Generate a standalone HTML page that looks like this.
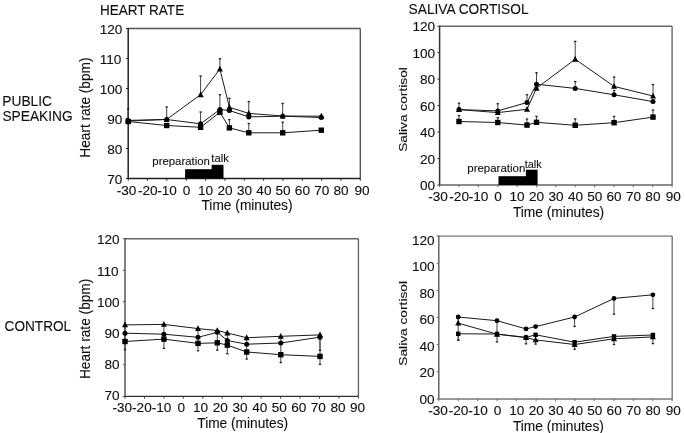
<!DOCTYPE html><html><head><meta charset="utf-8"><style>html,body{margin:0;padding:0;background:#fff;width:685px;height:433px;overflow:hidden}svg{display:block;will-change:transform}text{font-family:"Liberation Sans",sans-serif;fill:#111;stroke:#111;stroke-width:0.12px}</style></head><body>
<svg width="685" height="433" viewBox="0 0 685 433">
<rect width="685" height="433" fill="#fff"/>
<text x="99.91" y="14.95" font-size="14.00" textLength="84.26" lengthAdjust="spacingAndGlyphs">HEART RATE</text>
<text x="408.59" y="14.45" font-size="14.00" textLength="119.96" lengthAdjust="spacingAndGlyphs">SALIVA CORTISOL</text>
<text x="2.27" y="105.70" font-size="14.00" textLength="49.75" lengthAdjust="spacingAndGlyphs">PUBLIC</text>
<text x="2.43" y="121.00" font-size="14.00" textLength="70.30" lengthAdjust="spacingAndGlyphs">SPEAKING</text>
<text x="4.61" y="330.80" font-size="14.00" textLength="66.54" lengthAdjust="spacingAndGlyphs">CONTROL</text>
<line x1="128.20" y1="28.50" x2="360.30" y2="28.50" stroke="#555" stroke-width="1.4"/>
<line x1="360.30" y1="28.50" x2="360.30" y2="178.50" stroke="#555" stroke-width="1.4"/>
<line x1="128.20" y1="27.90" x2="128.20" y2="179.10" stroke="#222" stroke-width="1.5"/>
<line x1="128.20" y1="178.50" x2="360.30" y2="178.50" stroke="#222" stroke-width="1.4"/>
<line x1="126.00" y1="178.50" x2="128.20" y2="178.50" stroke="#222" stroke-width="1"/>
<text x="107.30" y="183.80" font-size="13.6">70</text>
<line x1="126.00" y1="148.50" x2="128.20" y2="148.50" stroke="#222" stroke-width="1"/>
<text x="107.30" y="153.80" font-size="13.6">80</text>
<line x1="126.00" y1="118.50" x2="128.20" y2="118.50" stroke="#222" stroke-width="1"/>
<text x="107.30" y="123.80" font-size="13.6">90</text>
<line x1="126.00" y1="88.50" x2="128.20" y2="88.50" stroke="#222" stroke-width="1"/>
<text x="99.74" y="93.80" font-size="13.6">100</text>
<line x1="126.00" y1="58.50" x2="128.20" y2="58.50" stroke="#222" stroke-width="1"/>
<text x="99.74" y="63.80" font-size="13.6">110</text>
<line x1="126.00" y1="28.50" x2="128.20" y2="28.50" stroke="#222" stroke-width="1"/>
<text x="99.74" y="33.80" font-size="13.6">120</text>
<line x1="128.20" y1="178.50" x2="128.20" y2="180.70" stroke="#222" stroke-width="1"/>
<text x="116.64" y="194.70" font-size="13.6">-30</text>
<line x1="147.54" y1="178.50" x2="147.54" y2="180.70" stroke="#222" stroke-width="1"/>
<text x="137.88" y="194.70" font-size="13.6">-20</text>
<line x1="166.88" y1="178.50" x2="166.88" y2="180.70" stroke="#222" stroke-width="1"/>
<text x="157.22" y="194.70" font-size="13.6">-10</text>
<line x1="186.22" y1="178.50" x2="186.22" y2="180.70" stroke="#222" stroke-width="1"/>
<text x="182.64" y="194.70" font-size="13.6">0</text>
<line x1="205.57" y1="178.50" x2="205.57" y2="180.70" stroke="#222" stroke-width="1"/>
<text x="197.95" y="194.70" font-size="13.6">10</text>
<line x1="224.91" y1="178.50" x2="224.91" y2="180.70" stroke="#222" stroke-width="1"/>
<text x="217.47" y="194.70" font-size="13.6">20</text>
<line x1="244.25" y1="178.50" x2="244.25" y2="180.70" stroke="#222" stroke-width="1"/>
<text x="236.89" y="194.70" font-size="13.6">30</text>
<line x1="263.59" y1="178.50" x2="263.59" y2="180.70" stroke="#222" stroke-width="1"/>
<text x="256.34" y="194.70" font-size="13.6">40</text>
<line x1="282.93" y1="178.50" x2="282.93" y2="180.70" stroke="#222" stroke-width="1"/>
<text x="275.56" y="194.70" font-size="13.6">50</text>
<line x1="302.27" y1="178.50" x2="302.27" y2="180.70" stroke="#222" stroke-width="1"/>
<text x="294.83" y="194.70" font-size="13.6">60</text>
<line x1="321.62" y1="178.50" x2="321.62" y2="180.70" stroke="#222" stroke-width="1"/>
<text x="314.17" y="194.70" font-size="13.6">70</text>
<line x1="340.96" y1="178.50" x2="340.96" y2="180.70" stroke="#222" stroke-width="1"/>
<text x="333.56" y="194.70" font-size="13.6">80</text>
<line x1="360.30" y1="178.50" x2="360.30" y2="180.70" stroke="#222" stroke-width="1"/>
<text x="354.48" y="194.70" font-size="13.6">90</text>
<text transform="translate(89.90,157.72) rotate(-90)" font-size="14.00" textLength="100.17" lengthAdjust="spacingAndGlyphs">Heart rate (bpm)</text>
<text x="201.49" y="209.80" font-size="14.00" textLength="91.05" lengthAdjust="spacingAndGlyphs">Time (minutes)</text>
<rect x="185.1" y="169.2" width="27.4" height="9.30" fill="#000"/>
<rect x="211.6" y="164.8" width="11.9" height="13.70" fill="#000"/>
<text x="152.37" y="164.70" font-size="11.40" textLength="57.47" lengthAdjust="spacingAndGlyphs">preparation</text>
<text x="211.33" y="161.80" font-size="11.40" textLength="17.45" lengthAdjust="spacingAndGlyphs">talk</text>
<line x1="128.20" y1="119.00" x2="128.20" y2="109.00" stroke="#444" stroke-width="1"/>
<line x1="127.00" y1="109.00" x2="129.40" y2="109.00" stroke="#222" stroke-width="1.3"/>
<line x1="166.70" y1="119.00" x2="166.70" y2="107.00" stroke="#444" stroke-width="1"/>
<line x1="165.50" y1="107.00" x2="167.90" y2="107.00" stroke="#222" stroke-width="1.3"/>
<line x1="200.60" y1="94.00" x2="200.60" y2="76.00" stroke="#444" stroke-width="1"/>
<line x1="199.40" y1="76.00" x2="201.80" y2="76.00" stroke="#222" stroke-width="1.3"/>
<line x1="219.90" y1="68.00" x2="219.90" y2="58.70" stroke="#444" stroke-width="1"/>
<line x1="218.70" y1="58.70" x2="221.10" y2="58.70" stroke="#222" stroke-width="1.3"/>
<line x1="200.60" y1="123.00" x2="200.60" y2="112.00" stroke="#444" stroke-width="1"/>
<line x1="199.40" y1="112.00" x2="201.80" y2="112.00" stroke="#222" stroke-width="1.3"/>
<line x1="219.90" y1="109.00" x2="219.90" y2="94.70" stroke="#444" stroke-width="1"/>
<line x1="218.70" y1="94.70" x2="221.10" y2="94.70" stroke="#222" stroke-width="1.3"/>
<line x1="229.40" y1="108.00" x2="229.40" y2="98.30" stroke="#444" stroke-width="1"/>
<line x1="228.20" y1="98.30" x2="230.60" y2="98.30" stroke="#222" stroke-width="1.3"/>
<line x1="229.40" y1="127.00" x2="229.40" y2="119.60" stroke="#444" stroke-width="1"/>
<line x1="228.20" y1="119.60" x2="230.60" y2="119.60" stroke="#222" stroke-width="1.3"/>
<line x1="248.80" y1="113.00" x2="248.80" y2="101.60" stroke="#444" stroke-width="1"/>
<line x1="247.60" y1="101.60" x2="250.00" y2="101.60" stroke="#222" stroke-width="1.3"/>
<line x1="248.80" y1="132.00" x2="248.80" y2="123.50" stroke="#444" stroke-width="1"/>
<line x1="247.60" y1="123.50" x2="250.00" y2="123.50" stroke="#222" stroke-width="1.3"/>
<line x1="282.70" y1="116.00" x2="282.70" y2="103.50" stroke="#444" stroke-width="1"/>
<line x1="281.50" y1="103.50" x2="283.90" y2="103.50" stroke="#222" stroke-width="1.3"/>
<line x1="282.70" y1="132.00" x2="282.70" y2="122.20" stroke="#444" stroke-width="1"/>
<line x1="281.50" y1="122.20" x2="283.90" y2="122.20" stroke="#222" stroke-width="1.3"/>
<polyline points="128.20,120.40 166.70,119.40 200.60,94.70 219.90,69.00 229.40,107.30 248.80,113.40 282.70,116.00 321.30,116.20" fill="none" stroke="#1a1a1a" stroke-width="1.0" stroke-linejoin="round"/>
<polyline points="128.20,121.00 166.70,119.50 200.60,123.80 219.90,109.50 229.40,110.50 248.80,116.90 282.70,116.20 321.30,117.50" fill="none" stroke="#1a1a1a" stroke-width="1.0" stroke-linejoin="round"/>
<polyline points="128.20,121.50 166.70,125.50 200.60,127.30 219.90,112.30 229.40,127.90 248.80,132.80 282.70,132.80 321.30,130.20" fill="none" stroke="#1a1a1a" stroke-width="1.0" stroke-linejoin="round"/>
<rect x="125.50" y="118.80" width="5.4" height="5.4" fill="#000"/>
<rect x="164.00" y="122.80" width="5.4" height="5.4" fill="#000"/>
<rect x="197.90" y="124.60" width="5.4" height="5.4" fill="#000"/>
<rect x="217.20" y="109.60" width="5.4" height="5.4" fill="#000"/>
<rect x="226.70" y="125.20" width="5.4" height="5.4" fill="#000"/>
<rect x="246.10" y="130.10" width="5.4" height="5.4" fill="#000"/>
<rect x="280.00" y="130.10" width="5.4" height="5.4" fill="#000"/>
<rect x="318.60" y="127.50" width="5.4" height="5.4" fill="#000"/>
<circle cx="128.20" cy="121.00" r="2.5" fill="#000"/>
<circle cx="166.70" cy="119.50" r="2.5" fill="#000"/>
<circle cx="200.60" cy="123.80" r="2.5" fill="#000"/>
<circle cx="219.90" cy="109.50" r="2.5" fill="#000"/>
<circle cx="229.40" cy="110.50" r="2.5" fill="#000"/>
<circle cx="248.80" cy="116.90" r="2.5" fill="#000"/>
<circle cx="282.70" cy="116.20" r="2.5" fill="#000"/>
<circle cx="321.30" cy="117.50" r="2.5" fill="#000"/>
<polygon points="128.20,117.04 131.20,122.84 125.20,122.84" fill="#000"/>
<polygon points="166.70,116.04 169.70,121.84 163.70,121.84" fill="#000"/>
<polygon points="200.60,91.34 203.60,97.14 197.60,97.14" fill="#000"/>
<polygon points="219.90,65.64 222.90,71.44 216.90,71.44" fill="#000"/>
<polygon points="229.40,103.94 232.40,109.74 226.40,109.74" fill="#000"/>
<polygon points="248.80,110.04 251.80,115.84 245.80,115.84" fill="#000"/>
<polygon points="282.70,112.64 285.70,118.44 279.70,118.44" fill="#000"/>
<polygon points="321.30,112.84 324.30,118.64 318.30,118.64" fill="#000"/>
<line x1="439.60" y1="26.20" x2="672.10" y2="26.20" stroke="#666" stroke-width="1.4"/>
<line x1="672.10" y1="26.20" x2="672.10" y2="185.00" stroke="#666" stroke-width="1.4"/>
<line x1="439.60" y1="25.60" x2="439.60" y2="185.60" stroke="#333" stroke-width="1.5"/>
<line x1="439.60" y1="185.00" x2="672.10" y2="185.00" stroke="#666" stroke-width="1.4"/>
<line x1="437.40" y1="185.00" x2="439.60" y2="185.00" stroke="#333" stroke-width="1"/>
<text x="420.00" y="190.00" font-size="13.6">00</text>
<line x1="437.40" y1="158.53" x2="439.60" y2="158.53" stroke="#333" stroke-width="1"/>
<text x="420.00" y="163.58" font-size="13.6">20</text>
<line x1="437.40" y1="132.07" x2="439.60" y2="132.07" stroke="#333" stroke-width="1"/>
<text x="420.00" y="137.16" font-size="13.6">40</text>
<line x1="437.40" y1="105.60" x2="439.60" y2="105.60" stroke="#333" stroke-width="1"/>
<text x="420.00" y="110.74" font-size="13.6">60</text>
<line x1="437.40" y1="79.13" x2="439.60" y2="79.13" stroke="#333" stroke-width="1"/>
<text x="420.00" y="84.32" font-size="13.6">80</text>
<line x1="437.40" y1="52.67" x2="439.60" y2="52.67" stroke="#333" stroke-width="1"/>
<text x="412.44" y="57.90" font-size="13.6">100</text>
<line x1="437.40" y1="26.20" x2="439.60" y2="26.20" stroke="#333" stroke-width="1"/>
<text x="412.44" y="31.48" font-size="13.6">120</text>
<line x1="439.60" y1="185.00" x2="439.60" y2="187.20" stroke="#666" stroke-width="1"/>
<text x="428.29" y="200.60" font-size="13.6">-30</text>
<line x1="458.98" y1="185.00" x2="458.98" y2="187.20" stroke="#666" stroke-width="1"/>
<text x="449.31" y="200.60" font-size="13.6">-20</text>
<line x1="478.35" y1="185.00" x2="478.35" y2="187.20" stroke="#666" stroke-width="1"/>
<text x="468.69" y="200.60" font-size="13.6">-10</text>
<line x1="497.73" y1="185.00" x2="497.73" y2="187.20" stroke="#666" stroke-width="1"/>
<text x="494.14" y="200.60" font-size="13.6">0</text>
<line x1="517.10" y1="185.00" x2="517.10" y2="187.20" stroke="#666" stroke-width="1"/>
<text x="509.48" y="200.60" font-size="13.6">10</text>
<line x1="536.48" y1="185.00" x2="536.48" y2="187.20" stroke="#666" stroke-width="1"/>
<text x="529.03" y="200.60" font-size="13.6">20</text>
<line x1="555.85" y1="185.00" x2="555.85" y2="187.20" stroke="#666" stroke-width="1"/>
<text x="548.49" y="200.60" font-size="13.6">30</text>
<line x1="575.23" y1="185.00" x2="575.23" y2="187.20" stroke="#666" stroke-width="1"/>
<text x="567.97" y="200.60" font-size="13.6">40</text>
<line x1="594.60" y1="185.00" x2="594.60" y2="187.20" stroke="#666" stroke-width="1"/>
<text x="587.23" y="200.60" font-size="13.6">50</text>
<line x1="613.98" y1="185.00" x2="613.98" y2="187.20" stroke="#666" stroke-width="1"/>
<text x="606.53" y="200.60" font-size="13.6">60</text>
<line x1="633.35" y1="185.00" x2="633.35" y2="187.20" stroke="#666" stroke-width="1"/>
<text x="625.90" y="200.60" font-size="13.6">70</text>
<line x1="652.73" y1="185.00" x2="652.73" y2="187.20" stroke="#666" stroke-width="1"/>
<text x="645.33" y="200.60" font-size="13.6">80</text>
<line x1="672.10" y1="185.00" x2="672.10" y2="187.20" stroke="#666" stroke-width="1"/>
<text x="665.78" y="200.60" font-size="13.6">90</text>
<text transform="translate(406.90,151.82) rotate(-90)" font-size="11.40" textLength="84.64" lengthAdjust="spacingAndGlyphs">Saliva cortisol</text>
<text x="512.89" y="216.60" font-size="14.00" textLength="91.26" lengthAdjust="spacingAndGlyphs">Time (minutes)</text>
<rect x="498.5" y="176.2" width="28.2" height="8.80" fill="#000"/>
<rect x="525.9" y="169.7" width="11.7" height="15.30" fill="#000"/>
<text x="467.26" y="171.50" font-size="11.40" textLength="58.09" lengthAdjust="spacingAndGlyphs">preparation</text>
<text x="524.74" y="168.20" font-size="11.40" textLength="16.95" lengthAdjust="spacingAndGlyphs">talk</text>
<line x1="459.00" y1="108.00" x2="459.00" y2="103.20" stroke="#444" stroke-width="1"/>
<line x1="457.80" y1="103.20" x2="460.20" y2="103.20" stroke="#222" stroke-width="1.3"/>
<line x1="497.80" y1="109.00" x2="497.80" y2="103.70" stroke="#444" stroke-width="1"/>
<line x1="496.60" y1="103.70" x2="499.00" y2="103.70" stroke="#222" stroke-width="1.3"/>
<line x1="527.00" y1="101.00" x2="527.00" y2="94.80" stroke="#444" stroke-width="1"/>
<line x1="525.80" y1="94.80" x2="528.20" y2="94.80" stroke="#222" stroke-width="1.3"/>
<line x1="536.50" y1="83.00" x2="536.50" y2="72.70" stroke="#444" stroke-width="1"/>
<line x1="535.30" y1="72.70" x2="537.70" y2="72.70" stroke="#222" stroke-width="1.3"/>
<line x1="575.20" y1="58.00" x2="575.20" y2="41.40" stroke="#444" stroke-width="1"/>
<line x1="574.00" y1="41.40" x2="576.40" y2="41.40" stroke="#222" stroke-width="1.3"/>
<line x1="575.20" y1="87.00" x2="575.20" y2="81.60" stroke="#444" stroke-width="1"/>
<line x1="574.00" y1="81.60" x2="576.40" y2="81.60" stroke="#222" stroke-width="1.3"/>
<line x1="614.10" y1="85.00" x2="614.10" y2="77.00" stroke="#444" stroke-width="1"/>
<line x1="612.90" y1="77.00" x2="615.30" y2="77.00" stroke="#222" stroke-width="1.3"/>
<line x1="614.10" y1="94.00" x2="614.10" y2="90.50" stroke="#444" stroke-width="1"/>
<line x1="612.90" y1="90.50" x2="615.30" y2="90.50" stroke="#222" stroke-width="1.3"/>
<line x1="653.00" y1="95.00" x2="653.00" y2="84.60" stroke="#444" stroke-width="1"/>
<line x1="651.80" y1="84.60" x2="654.20" y2="84.60" stroke="#222" stroke-width="1.3"/>
<line x1="459.00" y1="120.00" x2="459.00" y2="115.60" stroke="#444" stroke-width="1"/>
<line x1="457.80" y1="115.60" x2="460.20" y2="115.60" stroke="#222" stroke-width="1.3"/>
<line x1="497.80" y1="121.00" x2="497.80" y2="117.70" stroke="#444" stroke-width="1"/>
<line x1="496.60" y1="117.70" x2="499.00" y2="117.70" stroke="#222" stroke-width="1.3"/>
<line x1="527.00" y1="124.00" x2="527.00" y2="119.00" stroke="#444" stroke-width="1"/>
<line x1="525.80" y1="119.00" x2="528.20" y2="119.00" stroke="#222" stroke-width="1.3"/>
<line x1="536.50" y1="121.00" x2="536.50" y2="116.40" stroke="#444" stroke-width="1"/>
<line x1="535.30" y1="116.40" x2="537.70" y2="116.40" stroke="#222" stroke-width="1.3"/>
<line x1="575.20" y1="124.00" x2="575.20" y2="118.90" stroke="#444" stroke-width="1"/>
<line x1="574.00" y1="118.90" x2="576.40" y2="118.90" stroke="#222" stroke-width="1.3"/>
<line x1="614.10" y1="121.00" x2="614.10" y2="116.40" stroke="#444" stroke-width="1"/>
<line x1="612.90" y1="116.40" x2="615.30" y2="116.40" stroke="#222" stroke-width="1.3"/>
<line x1="653.00" y1="116.00" x2="653.00" y2="110.00" stroke="#444" stroke-width="1"/>
<line x1="651.80" y1="110.00" x2="654.20" y2="110.00" stroke="#222" stroke-width="1.3"/>
<polyline points="459.00,109.60 497.80,112.60 527.00,109.30 536.50,88.20 575.20,59.20 614.10,86.40 653.00,96.00" fill="none" stroke="#1a1a1a" stroke-width="1.0" stroke-linejoin="round"/>
<polyline points="459.00,109.60 497.80,110.90 527.00,102.50 536.50,84.20 575.20,88.40 614.10,94.80 653.00,101.60" fill="none" stroke="#1a1a1a" stroke-width="1.0" stroke-linejoin="round"/>
<polyline points="459.00,121.50 497.80,122.50 527.00,125.10 536.50,122.30 575.20,125.30 614.10,122.70 653.00,117.10" fill="none" stroke="#1a1a1a" stroke-width="1.0" stroke-linejoin="round"/>
<rect x="456.30" y="118.80" width="5.4" height="5.4" fill="#000"/>
<rect x="495.10" y="119.80" width="5.4" height="5.4" fill="#000"/>
<rect x="524.30" y="122.40" width="5.4" height="5.4" fill="#000"/>
<rect x="533.80" y="119.60" width="5.4" height="5.4" fill="#000"/>
<rect x="572.50" y="122.60" width="5.4" height="5.4" fill="#000"/>
<rect x="611.40" y="120.00" width="5.4" height="5.4" fill="#000"/>
<rect x="650.30" y="114.40" width="5.4" height="5.4" fill="#000"/>
<circle cx="459.00" cy="109.60" r="2.5" fill="#000"/>
<circle cx="497.80" cy="110.90" r="2.5" fill="#000"/>
<circle cx="527.00" cy="102.50" r="2.5" fill="#000"/>
<circle cx="536.50" cy="84.20" r="2.5" fill="#000"/>
<circle cx="575.20" cy="88.40" r="2.5" fill="#000"/>
<circle cx="614.10" cy="94.80" r="2.5" fill="#000"/>
<circle cx="653.00" cy="101.60" r="2.5" fill="#000"/>
<polygon points="459.00,106.24 462.00,112.04 456.00,112.04" fill="#000"/>
<polygon points="497.80,109.24 500.80,115.04 494.80,115.04" fill="#000"/>
<polygon points="527.00,105.94 530.00,111.74 524.00,111.74" fill="#000"/>
<polygon points="536.50,84.84 539.50,90.64 533.50,90.64" fill="#000"/>
<polygon points="575.20,55.84 578.20,61.64 572.20,61.64" fill="#000"/>
<polygon points="614.10,83.04 617.10,88.84 611.10,88.84" fill="#000"/>
<polygon points="653.00,92.64 656.00,98.44 650.00,98.44" fill="#000"/>
<line x1="125.00" y1="238.70" x2="358.40" y2="238.70" stroke="#666" stroke-width="1.4"/>
<line x1="358.40" y1="238.70" x2="358.40" y2="396.40" stroke="#666" stroke-width="1.4"/>
<line x1="125.00" y1="238.10" x2="125.00" y2="397.00" stroke="#555" stroke-width="1.5"/>
<line x1="125.00" y1="396.40" x2="358.40" y2="396.40" stroke="#333" stroke-width="1.4"/>
<line x1="122.80" y1="396.40" x2="125.00" y2="396.40" stroke="#555" stroke-width="1"/>
<text x="104.50" y="400.40" font-size="13.6">70</text>
<line x1="122.80" y1="364.86" x2="125.00" y2="364.86" stroke="#555" stroke-width="1"/>
<text x="104.50" y="369.20" font-size="13.6">80</text>
<line x1="122.80" y1="333.32" x2="125.00" y2="333.32" stroke="#555" stroke-width="1"/>
<text x="104.50" y="338.00" font-size="13.6">90</text>
<line x1="122.80" y1="301.78" x2="125.00" y2="301.78" stroke="#555" stroke-width="1"/>
<text x="96.94" y="306.80" font-size="13.6">100</text>
<line x1="122.80" y1="270.24" x2="125.00" y2="270.24" stroke="#555" stroke-width="1"/>
<text x="96.94" y="275.60" font-size="13.6">110</text>
<line x1="122.80" y1="238.70" x2="125.00" y2="238.70" stroke="#555" stroke-width="1"/>
<text x="96.94" y="244.40" font-size="13.6">120</text>
<line x1="125.00" y1="396.40" x2="125.00" y2="398.60" stroke="#333" stroke-width="1"/>
<text x="112.49" y="412.30" font-size="13.6">-30</text>
<line x1="144.45" y1="396.40" x2="144.45" y2="398.60" stroke="#333" stroke-width="1"/>
<text x="132.10" y="412.30" font-size="13.6">-20</text>
<line x1="163.90" y1="396.40" x2="163.90" y2="398.60" stroke="#333" stroke-width="1"/>
<text x="151.71" y="412.30" font-size="13.6">-10</text>
<line x1="183.35" y1="396.40" x2="183.35" y2="398.60" stroke="#333" stroke-width="1"/>
<text x="177.40" y="412.30" font-size="13.6">0</text>
<line x1="202.80" y1="396.40" x2="202.80" y2="398.60" stroke="#333" stroke-width="1"/>
<text x="192.97" y="412.30" font-size="13.6">10</text>
<line x1="222.25" y1="396.40" x2="222.25" y2="398.60" stroke="#333" stroke-width="1"/>
<text x="212.76" y="412.30" font-size="13.6">20</text>
<line x1="241.70" y1="396.40" x2="241.70" y2="398.60" stroke="#333" stroke-width="1"/>
<text x="232.45" y="412.30" font-size="13.6">30</text>
<line x1="261.15" y1="396.40" x2="261.15" y2="398.60" stroke="#333" stroke-width="1"/>
<text x="252.17" y="412.30" font-size="13.6">40</text>
<line x1="280.60" y1="396.40" x2="280.60" y2="398.60" stroke="#333" stroke-width="1"/>
<text x="271.66" y="412.30" font-size="13.6">50</text>
<line x1="300.05" y1="396.40" x2="300.05" y2="398.60" stroke="#333" stroke-width="1"/>
<text x="291.20" y="412.30" font-size="13.6">60</text>
<line x1="319.50" y1="396.40" x2="319.50" y2="398.60" stroke="#333" stroke-width="1"/>
<text x="310.80" y="412.30" font-size="13.6">70</text>
<line x1="338.95" y1="396.40" x2="338.95" y2="398.60" stroke="#333" stroke-width="1"/>
<text x="330.47" y="412.30" font-size="13.6">80</text>
<line x1="358.40" y1="396.40" x2="358.40" y2="398.60" stroke="#333" stroke-width="1"/>
<text x="350.05" y="412.30" font-size="13.6">90</text>
<text transform="translate(89.90,379.12) rotate(-90)" font-size="14.00" textLength="100.47" lengthAdjust="spacingAndGlyphs">Heart rate (bpm)</text>
<text x="197.29" y="427.70" font-size="14.00" textLength="90.85" lengthAdjust="spacingAndGlyphs">Time (minutes)</text>
<line x1="125.00" y1="324.90" x2="125.00" y2="349.80" stroke="#444" stroke-width="1"/>
<line x1="123.80" y1="349.80" x2="126.20" y2="349.80" stroke="#222" stroke-width="1.3"/>
<line x1="163.90" y1="324.40" x2="163.90" y2="348.40" stroke="#444" stroke-width="1"/>
<line x1="162.70" y1="348.40" x2="165.10" y2="348.40" stroke="#222" stroke-width="1.3"/>
<line x1="198.00" y1="328.60" x2="198.00" y2="350.80" stroke="#444" stroke-width="1"/>
<line x1="196.80" y1="350.80" x2="199.20" y2="350.80" stroke="#222" stroke-width="1.3"/>
<line x1="217.30" y1="330.50" x2="217.30" y2="350.20" stroke="#444" stroke-width="1"/>
<line x1="216.10" y1="350.20" x2="218.50" y2="350.20" stroke="#222" stroke-width="1.3"/>
<line x1="227.30" y1="333.00" x2="227.30" y2="353.70" stroke="#444" stroke-width="1"/>
<line x1="226.10" y1="353.70" x2="228.50" y2="353.70" stroke="#222" stroke-width="1.3"/>
<line x1="246.70" y1="337.70" x2="246.70" y2="359.00" stroke="#444" stroke-width="1"/>
<line x1="245.50" y1="359.00" x2="247.90" y2="359.00" stroke="#222" stroke-width="1.3"/>
<line x1="280.80" y1="336.30" x2="280.80" y2="362.60" stroke="#444" stroke-width="1"/>
<line x1="279.60" y1="362.60" x2="282.00" y2="362.60" stroke="#222" stroke-width="1.3"/>
<line x1="320.00" y1="334.90" x2="320.00" y2="364.30" stroke="#444" stroke-width="1"/>
<line x1="318.80" y1="364.30" x2="321.20" y2="364.30" stroke="#222" stroke-width="1.3"/>
<line x1="320.00" y1="335.00" x2="320.00" y2="350.30" stroke="#444" stroke-width="1"/>
<line x1="318.80" y1="350.30" x2="321.20" y2="350.30" stroke="#222" stroke-width="1.3"/>
<polyline points="125.00,324.90 163.90,324.40 198.00,328.60 217.30,330.50 227.30,333.00 246.70,337.70 280.80,336.30 320.00,334.90" fill="none" stroke="#1a1a1a" stroke-width="1.0" stroke-linejoin="round"/>
<polyline points="125.00,333.20 163.90,334.20 198.00,337.30 217.30,332.30 227.30,340.50 246.70,344.20 280.80,343.00 320.00,337.20" fill="none" stroke="#1a1a1a" stroke-width="1.0" stroke-linejoin="round"/>
<polyline points="125.00,341.50 163.90,339.10 198.00,343.40 217.30,342.80 227.30,345.10 246.70,352.00 280.80,354.70 320.00,356.40" fill="none" stroke="#1a1a1a" stroke-width="1.0" stroke-linejoin="round"/>
<rect x="122.30" y="338.80" width="5.4" height="5.4" fill="#000"/>
<rect x="161.20" y="336.40" width="5.4" height="5.4" fill="#000"/>
<rect x="195.30" y="340.70" width="5.4" height="5.4" fill="#000"/>
<rect x="214.60" y="340.10" width="5.4" height="5.4" fill="#000"/>
<rect x="224.60" y="342.40" width="5.4" height="5.4" fill="#000"/>
<rect x="244.00" y="349.30" width="5.4" height="5.4" fill="#000"/>
<rect x="278.10" y="352.00" width="5.4" height="5.4" fill="#000"/>
<rect x="317.30" y="353.70" width="5.4" height="5.4" fill="#000"/>
<circle cx="125.00" cy="333.20" r="2.5" fill="#000"/>
<circle cx="163.90" cy="334.20" r="2.5" fill="#000"/>
<circle cx="198.00" cy="337.30" r="2.5" fill="#000"/>
<circle cx="217.30" cy="332.30" r="2.5" fill="#000"/>
<circle cx="227.30" cy="340.50" r="2.5" fill="#000"/>
<circle cx="246.70" cy="344.20" r="2.5" fill="#000"/>
<circle cx="280.80" cy="343.00" r="2.5" fill="#000"/>
<circle cx="320.00" cy="337.20" r="2.5" fill="#000"/>
<polygon points="125.00,321.54 128.00,327.34 122.00,327.34" fill="#000"/>
<polygon points="163.90,321.04 166.90,326.84 160.90,326.84" fill="#000"/>
<polygon points="198.00,325.24 201.00,331.04 195.00,331.04" fill="#000"/>
<polygon points="217.30,327.14 220.30,332.94 214.30,332.94" fill="#000"/>
<polygon points="227.30,329.64 230.30,335.44 224.30,335.44" fill="#000"/>
<polygon points="246.70,334.34 249.70,340.14 243.70,340.14" fill="#000"/>
<polygon points="280.80,332.94 283.80,338.74 277.80,338.74" fill="#000"/>
<polygon points="320.00,331.54 323.00,337.34 317.00,337.34" fill="#000"/>
<line x1="438.80" y1="236.10" x2="672.20" y2="236.10" stroke="#777" stroke-width="1.4"/>
<line x1="672.20" y1="236.10" x2="672.20" y2="399.00" stroke="#777" stroke-width="1.4"/>
<line x1="438.80" y1="235.50" x2="438.80" y2="399.60" stroke="#666" stroke-width="1.5"/>
<line x1="438.80" y1="399.00" x2="672.20" y2="399.00" stroke="#777" stroke-width="1.4"/>
<line x1="436.60" y1="399.00" x2="438.80" y2="399.00" stroke="#666" stroke-width="1"/>
<text x="419.50" y="403.80" font-size="13.6">00</text>
<line x1="436.60" y1="371.85" x2="438.80" y2="371.85" stroke="#666" stroke-width="1"/>
<text x="419.50" y="377.30" font-size="13.6">20</text>
<line x1="436.60" y1="344.70" x2="438.80" y2="344.70" stroke="#666" stroke-width="1"/>
<text x="419.50" y="350.80" font-size="13.6">40</text>
<line x1="436.60" y1="317.55" x2="438.80" y2="317.55" stroke="#666" stroke-width="1"/>
<text x="419.50" y="324.30" font-size="13.6">60</text>
<line x1="436.60" y1="290.40" x2="438.80" y2="290.40" stroke="#666" stroke-width="1"/>
<text x="419.50" y="297.80" font-size="13.6">80</text>
<line x1="436.60" y1="263.25" x2="438.80" y2="263.25" stroke="#666" stroke-width="1"/>
<text x="411.94" y="271.30" font-size="13.6">100</text>
<line x1="436.60" y1="236.10" x2="438.80" y2="236.10" stroke="#666" stroke-width="1"/>
<text x="411.94" y="244.80" font-size="13.6">120</text>
<line x1="438.80" y1="399.00" x2="438.80" y2="401.20" stroke="#777" stroke-width="1"/>
<text x="428.14" y="415.10" font-size="13.6">-30</text>
<line x1="458.25" y1="399.00" x2="458.25" y2="401.20" stroke="#777" stroke-width="1"/>
<text x="448.79" y="415.10" font-size="13.6">-20</text>
<line x1="477.70" y1="399.00" x2="477.70" y2="401.20" stroke="#777" stroke-width="1"/>
<text x="468.24" y="415.10" font-size="13.6">-10</text>
<line x1="497.15" y1="399.00" x2="497.15" y2="401.20" stroke="#777" stroke-width="1"/>
<text x="493.77" y="415.10" font-size="13.6">0</text>
<line x1="516.60" y1="399.00" x2="516.60" y2="401.20" stroke="#777" stroke-width="1"/>
<text x="509.18" y="415.10" font-size="13.6">10</text>
<line x1="536.05" y1="399.00" x2="536.05" y2="401.20" stroke="#777" stroke-width="1"/>
<text x="528.81" y="415.10" font-size="13.6">20</text>
<line x1="555.50" y1="399.00" x2="555.50" y2="401.20" stroke="#777" stroke-width="1"/>
<text x="548.34" y="415.10" font-size="13.6">30</text>
<line x1="574.95" y1="399.00" x2="574.95" y2="401.20" stroke="#777" stroke-width="1"/>
<text x="567.90" y="415.10" font-size="13.6">40</text>
<line x1="594.40" y1="399.00" x2="594.40" y2="401.20" stroke="#777" stroke-width="1"/>
<text x="587.23" y="415.10" font-size="13.6">50</text>
<line x1="613.85" y1="399.00" x2="613.85" y2="401.20" stroke="#777" stroke-width="1"/>
<text x="606.61" y="415.10" font-size="13.6">60</text>
<line x1="633.30" y1="399.00" x2="633.30" y2="401.20" stroke="#777" stroke-width="1"/>
<text x="626.05" y="415.10" font-size="13.6">70</text>
<line x1="652.75" y1="399.00" x2="652.75" y2="401.20" stroke="#777" stroke-width="1"/>
<text x="645.56" y="415.10" font-size="13.6">80</text>
<line x1="672.20" y1="399.00" x2="672.20" y2="401.20" stroke="#777" stroke-width="1"/>
<text x="665.68" y="415.10" font-size="13.6">90</text>
<text transform="translate(406.80,365.72) rotate(-90)" font-size="11.40" textLength="84.74" lengthAdjust="spacingAndGlyphs">Saliva cortisol</text>
<text x="512.89" y="430.90" font-size="14.00" textLength="91.05" lengthAdjust="spacingAndGlyphs">Time (minutes)</text>
<line x1="458.20" y1="333.80" x2="458.20" y2="340.30" stroke="#444" stroke-width="1"/>
<line x1="457.00" y1="340.30" x2="459.40" y2="340.30" stroke="#222" stroke-width="1.3"/>
<line x1="497.00" y1="334.00" x2="497.00" y2="342.00" stroke="#444" stroke-width="1"/>
<line x1="495.80" y1="342.00" x2="498.20" y2="342.00" stroke="#222" stroke-width="1.3"/>
<line x1="526.00" y1="337.40" x2="526.00" y2="343.80" stroke="#444" stroke-width="1"/>
<line x1="524.80" y1="343.80" x2="527.20" y2="343.80" stroke="#222" stroke-width="1.3"/>
<line x1="535.60" y1="334.80" x2="535.60" y2="344.10" stroke="#444" stroke-width="1"/>
<line x1="534.40" y1="344.10" x2="536.80" y2="344.10" stroke="#222" stroke-width="1.3"/>
<line x1="574.60" y1="342.20" x2="574.60" y2="349.30" stroke="#444" stroke-width="1"/>
<line x1="573.40" y1="349.30" x2="575.80" y2="349.30" stroke="#222" stroke-width="1.3"/>
<line x1="614.00" y1="336.40" x2="614.00" y2="344.50" stroke="#444" stroke-width="1"/>
<line x1="612.80" y1="344.50" x2="615.20" y2="344.50" stroke="#222" stroke-width="1.3"/>
<line x1="652.90" y1="335.00" x2="652.90" y2="343.60" stroke="#444" stroke-width="1"/>
<line x1="651.70" y1="343.60" x2="654.10" y2="343.60" stroke="#222" stroke-width="1.3"/>
<line x1="574.60" y1="317.00" x2="574.60" y2="326.50" stroke="#444" stroke-width="1"/>
<line x1="573.40" y1="326.50" x2="575.80" y2="326.50" stroke="#222" stroke-width="1.3"/>
<line x1="614.00" y1="298.40" x2="614.00" y2="314.20" stroke="#444" stroke-width="1"/>
<line x1="612.80" y1="314.20" x2="615.20" y2="314.20" stroke="#222" stroke-width="1.3"/>
<line x1="652.90" y1="294.80" x2="652.90" y2="308.50" stroke="#444" stroke-width="1"/>
<line x1="651.70" y1="308.50" x2="654.10" y2="308.50" stroke="#222" stroke-width="1.3"/>
<line x1="458.20" y1="317.00" x2="458.20" y2="340.30" stroke="#444" stroke-width="1"/>
<line x1="457.00" y1="340.30" x2="459.40" y2="340.30" stroke="#222" stroke-width="1.3"/>
<line x1="497.00" y1="320.70" x2="497.00" y2="334.00" stroke="#444" stroke-width="1"/>
<line x1="495.80" y1="334.00" x2="498.20" y2="334.00" stroke="#222" stroke-width="1.3"/>
<polyline points="458.20,323.10 497.00,334.20 526.00,337.60 535.60,339.90 574.60,344.50 614.00,338.80 652.90,336.90" fill="none" stroke="#1a1a1a" stroke-width="1.0" stroke-linejoin="round"/>
<polyline points="458.20,317.00 497.00,320.70 526.00,328.90 535.60,326.60 574.60,317.00 614.00,298.40 652.90,294.80" fill="none" stroke="#1a1a1a" stroke-width="1.0" stroke-linejoin="round"/>
<polyline points="458.20,333.80 497.00,334.00 526.00,337.40 535.60,334.80 574.60,342.20 614.00,336.40 652.90,335.00" fill="none" stroke="#1a1a1a" stroke-width="1.0" stroke-linejoin="round"/>
<rect x="456.00" y="331.60" width="4.4" height="4.4" fill="#000"/>
<rect x="494.80" y="331.80" width="4.4" height="4.4" fill="#000"/>
<rect x="523.80" y="335.20" width="4.4" height="4.4" fill="#000"/>
<rect x="533.40" y="332.60" width="4.4" height="4.4" fill="#000"/>
<rect x="572.40" y="340.00" width="4.4" height="4.4" fill="#000"/>
<rect x="611.80" y="334.20" width="4.4" height="4.4" fill="#000"/>
<rect x="650.70" y="332.80" width="4.4" height="4.4" fill="#000"/>
<circle cx="458.20" cy="317.00" r="2.4" fill="#000"/>
<circle cx="497.00" cy="320.70" r="2.4" fill="#000"/>
<circle cx="526.00" cy="328.90" r="2.4" fill="#000"/>
<circle cx="535.60" cy="326.60" r="2.4" fill="#000"/>
<circle cx="574.60" cy="317.00" r="2.4" fill="#000"/>
<circle cx="614.00" cy="298.40" r="2.4" fill="#000"/>
<circle cx="652.90" cy="294.80" r="2.4" fill="#000"/>
<polygon points="458.20,319.74 461.20,325.54 455.20,325.54" fill="#000"/>
<polygon points="497.00,330.84 500.00,336.64 494.00,336.64" fill="#000"/>
<polygon points="526.00,334.24 529.00,340.04 523.00,340.04" fill="#000"/>
<polygon points="535.60,336.54 538.60,342.34 532.60,342.34" fill="#000"/>
<polygon points="574.60,341.14 577.60,346.94 571.60,346.94" fill="#000"/>
<polygon points="614.00,335.44 617.00,341.24 611.00,341.24" fill="#000"/>
<polygon points="652.90,333.54 655.90,339.34 649.90,339.34" fill="#000"/>
</svg></body></html>
